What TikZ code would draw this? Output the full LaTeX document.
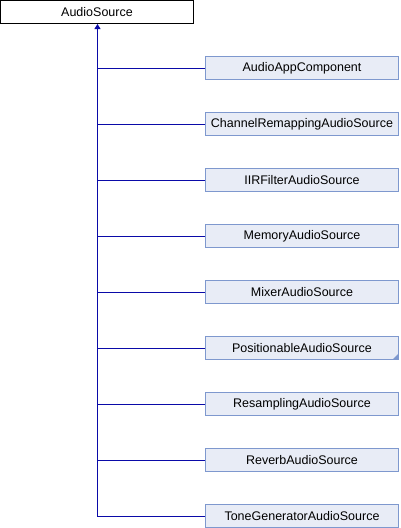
\documentclass[tikz,border=0pt]{standalone}
\usepackage{fontspec}
\setmainfont{Liberation Sans}
\usetikzlibrary{arrows.meta}
\definecolor{boxfill}{HTML}{E8ECF6}
\definecolor{boxline}{HTML}{7E98CE}
\definecolor{edgecol}{HTML}{0A0AA8}
\tikzset{
  base/.style={draw=black, fill=white, line width=1pt, minimum width=193pt, minimum height=23pt, inner sep=0pt, font=\fontsize{12.5}{14}\selectfont},
  child/.style={draw=boxline, fill=boxfill, line width=1pt, minimum width=193pt, minimum height=23pt, inner sep=0pt, font=\fontsize{12.5}{14}\selectfont},
  edge/.style={color=edgecol, line width=1pt},
}
\begin{document}
\begin{tikzpicture}[x=1pt,y=-1pt]
\useasboundingbox (0,0) rectangle (400,528);
\node[base] (p) at (97,12) {AudioSource};
\node[child] (c1) at (302,68) {AudioAppComponent};
\node[child] (c2) at (302,124) {ChannelRemappingAudioSource};
\node[child] (c3) at (302,180) {IIRFilterAudioSource};
\node[child] (c4) at (302,236) {MemoryAudioSource};
\node[child] (c5) at (302,292) {MixerAudioSource};
\node[child] (c6) at (302,348) {PositionableAudioSource};
\node[child] (c7) at (302,404) {ResamplingAudioSource};
\node[child] (c8) at (302,460) {ReverbAudioSource};
\node[child] (c9) at (302,516) {ToneGeneratorAudioSource};
\coordinate (top) at ([xshift=0.5pt]p.south);
\fill[boxline] ([xshift=-0.5pt,yshift=0.5pt]c6.south east) -- ++(0,-6) -- ++(-6,6) -- cycle;
\draw[edge,-{Triangle[length=5pt,width=6pt]}] ([yshift=-0.5pt]c9.west) -| (top);
\foreach \c in {c1,c2,c3,c4,c5,c6,c7,c8}
  \draw[edge] ([yshift=-0.5pt]\c.west) -- ([yshift=-0.5pt]\c.west -| top);
\end{tikzpicture}
\end{document}
